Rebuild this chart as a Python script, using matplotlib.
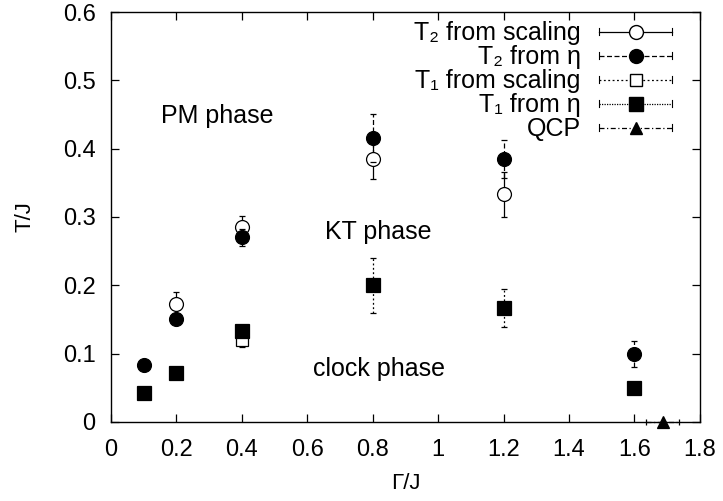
import matplotlib
matplotlib.use("Agg")
import numpy as np
import matplotlib.pyplot as plt
from matplotlib.lines import Line2D
from matplotlib.legend_handler import HandlerLine2D

plt.rcParams['font.family'] = ['Liberation Sans', 'DejaVu Sans']

# data
t2s_x = [0.2, 0.4, 0.8, 1.2]
t2s_y = [0.173, 0.285, 0.385, 0.333]
t2s_err = [0.017, 0.016, 0.030, 0.033]

t2e_x = [0.1, 0.2, 0.4, 0.8, 1.2, 1.6]
t2e_y = [0.083, 0.150, 0.270, 0.416, 0.385, 0.100]
t2e_err = [0.0, 0.0, 0.013, 0.035, 0.028, 0.019]

t1s_x = [0.4, 0.8, 1.2]
t1s_y = [0.120, 0.200, 0.167]
t1s_err = [0.010, 0.040, 0.028]

t1e_x = [0.1, 0.2, 0.4, 0.8, 1.2, 1.6]
t1e_y = [0.042, 0.072, 0.133, 0.200, 0.167, 0.050]

qcp_x = [1.686]
qcp_y = [0.0]
qcp_xerr = [0.05]

xticks = [0, 0.2, 0.4, 0.6, 0.8, 1.0, 1.2, 1.4, 1.6, 1.8]
xticklabels = ["0", "0.2", "0.4", "0.6", "0.8", "1", "1.2", "1.4", "1.6", "1.8"]
yticks = [0, 0.1, 0.2, 0.3, 0.4, 0.5, 0.6]
yticklabels = ["0", "0.1", "0.2", "0.3", "0.4", "0.5", "0.6"]


class CapLine(HandlerLine2D):
    """gnuplot-like key sample: line with small end caps."""
    def create_artists(self, legend, orig_handle, xdescent, ydescent,
                       width, height, fontsize, trans):
        arts = super().create_artists(legend, orig_handle, xdescent, ydescent,
                                      width, height, fontsize, trans)
        y = height / 2 - ydescent
        c = height * 0.18
        for x in (-xdescent, width - xdescent):
            arts.append(Line2D([x, x], [y - c, y + c], color='k', lw=0.8,
                               transform=trans))
        return arts


fig = plt.figure(figsize=(7.23, 5.01), dpi=100)
ax = fig.add_axes([0.1535, 0.158, 0.8145, 0.818])

ls_t2s = '-'
ls_t2e = (0, (4, 2))
ls_t1s = (0, (1.5, 2))
ls_t1e = (0, (1, 1))
ls_qcp = (0, (4, 2, 1, 2))

def ebar(x, y, yerr=None, xerr=None, marker='o', fill=True, ls='-', ms=10):
    e = ax.errorbar(x, y, yerr=yerr, xerr=xerr, fmt=marker, ms=ms,
                    mfc='k' if fill else 'white', mec='k', mew=0.9,
                    ecolor='k', elinewidth=0.9, capsize=2.5, capthick=0.9,
                    zorder=4 if fill else 3)
    e[0].set_clip_on(False)
    for lc in e[2]:
        lc.set_linestyle(ls)
        lc.set_zorder(2)
        lc.set_clip_on(False)
    for cap in e[1]:
        cap.set_clip_on(False)
    return e

ebar(t1s_x, t1s_y, yerr=t1s_err, marker='s', fill=False, ls=ls_t1s, ms=9)
ebar(t1e_x, t1e_y, marker='s', fill=True, ms=10)
ebar(t2s_x, t2s_y, yerr=t2s_err, marker='o', fill=False, ls=ls_t2s, ms=10)
ebar(t2e_x, t2e_y, yerr=t2e_err, marker='o', fill=True, ls=ls_t2e, ms=10)
ebar(qcp_x, qcp_y, xerr=qcp_xerr, marker='^', fill=True, ls=ls_qcp, ms=9)

ax.set_xlim(0, 1.8)
ax.set_ylim(0, 0.6)
ax.set_xticks(xticks)
ax.set_xticklabels(xticklabels)
ax.set_yticks(yticks)
ax.set_yticklabels(yticklabels)
ax.tick_params(direction='in', top=True, right=True, length=6, width=0.9,
               labelsize=17)
ax.tick_params(axis='x', pad=12)
ax.tick_params(axis='y', pad=11)
for s in ax.spines.values():
    s.set_linewidth(1.0)

ax.set_xlabel("\u0393/J", fontsize=16, labelpad=9)
ax.set_ylabel("T/J", fontsize=16, labelpad=20)

ax.text(0.324, 0.448, "PM phase", fontsize=18, ha='center', va='center')
ax.text(0.816, 0.278, "KT phase", fontsize=18, ha='center', va='center')
ax.text(0.819, 0.078, "clock phase", fontsize=18, ha='center', va='center')

handles = [
    Line2D([], [], color='k', lw=0.9, ls=ls_t2s, marker='o', ms=10, mfc='white', mec='k'),
    Line2D([], [], color='k', lw=0.9, ls=ls_t2e, marker='o', ms=10, mfc='k', mec='k'),
    Line2D([], [], color='k', lw=0.9, ls=ls_t1s, marker='s', ms=9, mfc='white', mec='k'),
    Line2D([], [], color='k', lw=0.9, ls=ls_t1e, marker='s', ms=10, mfc='k', mec='k'),
    Line2D([], [], color='k', lw=0.9, ls=ls_qcp, marker='^', ms=9, mfc='k', mec='k'),
]
labels = ["T\u2082 from scaling", "T\u2082 from \u03b7", "T\u2081 from scaling",
          "T\u2081 from \u03b7", "QCP"]
ax.legend(handles, labels, loc='upper right', bbox_to_anchor=(0.982, 1.02),
          frameon=False, markerfirst=False, fontsize=18, handlelength=2.9,
          handletextpad=0.75, labelspacing=0.0, borderaxespad=0.3,
          handler_map={Line2D: CapLine()})

fig.savefig("out.png", dpi=100)
